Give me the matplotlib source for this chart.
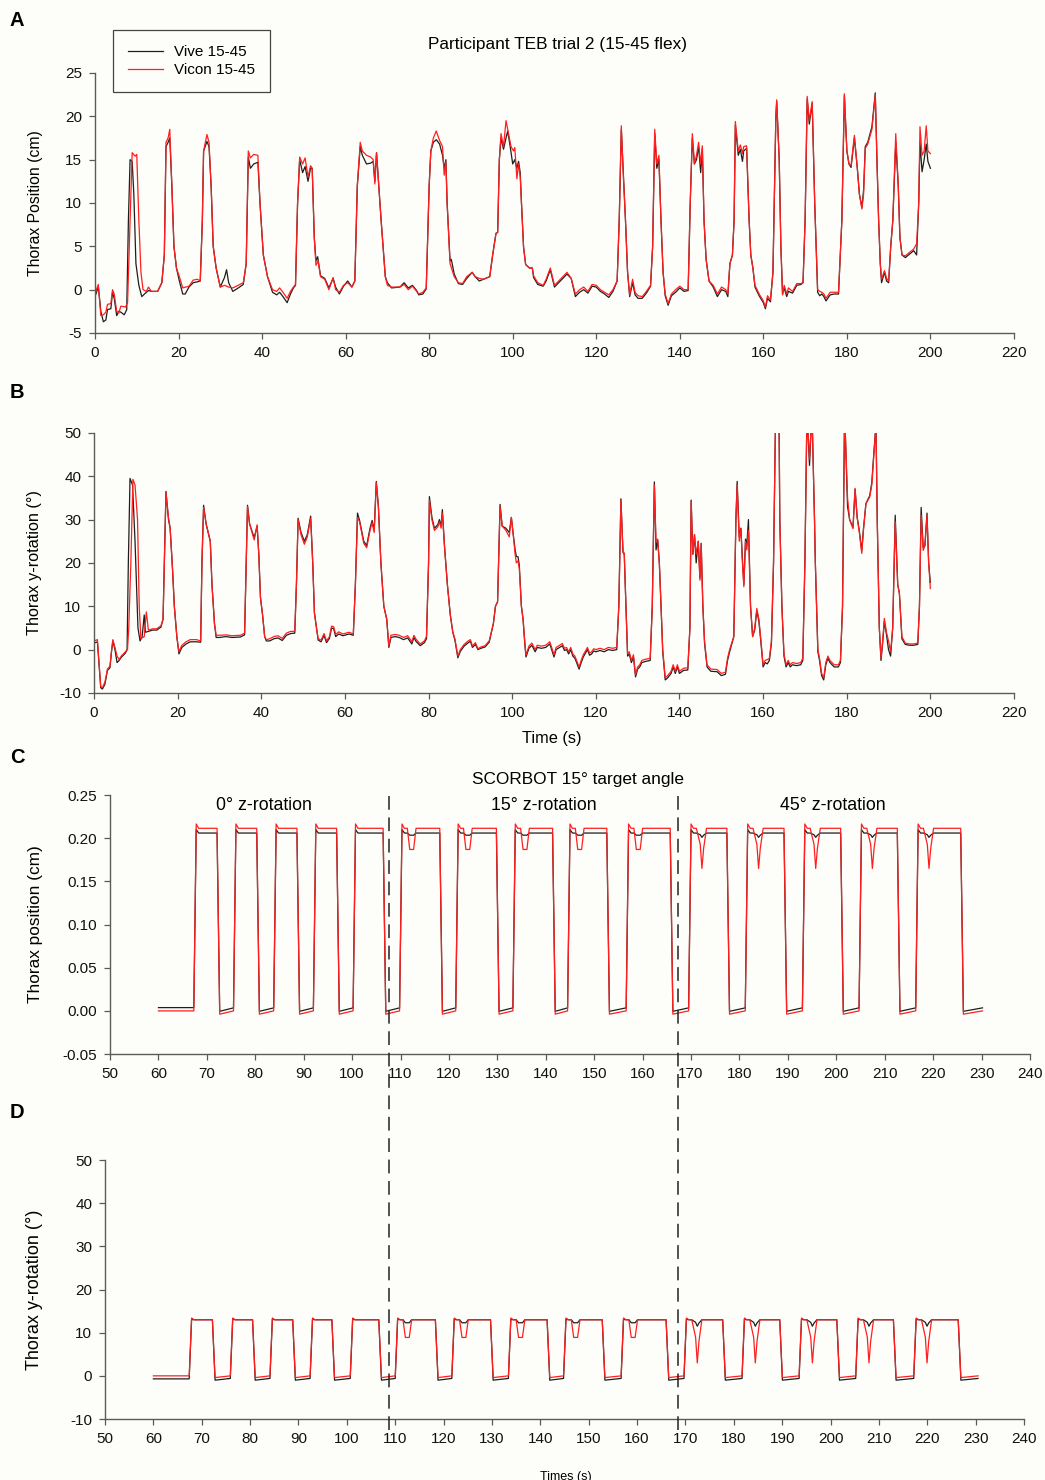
import numpy as np
import matplotlib
matplotlib.use("Agg")
import matplotlib.pyplot as plt
from matplotlib.lines import Line2D
from matplotlib.ticker import FormatStrFormatter, MultipleLocator

plt.rcParams["font.family"] = ["Liberation Sans", "DejaVu Sans"]
plt.rcParams["axes.unicode_minus"] = False

# ---- panel A: thorax position (cm), (time, value) ----
vicon_a = [(0, -0.4), (0.8, 0.6), (1.4, -3.0), (2.0, -2.9), (2.6, -2.6), (3.0, -1.7), (3.8, -1.6), (4.2, 0.0),
           (4.6, -0.5), (5.2, -2.5), (5.7, -2.7), (6.2, -1.9), (7.3, -2.0), (7.8, -1.5), (8.4, 8), (8.9, 15.8),
           (9.6, 15.4), (10.0, 15.6), (10.5, 8), (11.0, 2), (11.5, 0.0), (12.3, -0.2), (12.8, 0.3), (13.5, -0.2),
           (15.0, -0.2), (16.0, 0.8), (16.6, 4), (17.0, 17.0), (17.5, 17.5), (17.9, 18.5), (18.4, 12), (18.9, 5),
           (19.5, 2.5), (20.2, 1.5), (21.0, 0.2), (22.5, 0.4), (23.5, 1.1), (24.5, 1.2), (25.2, 1.0), (25.7, 8),
           (26.0, 16.0), (26.8, 17.9), (27.3, 17.0), (27.8, 12), (28.3, 5), (29.0, 2.5), (30.0, 0.3), (31.0, 0.5),
           (32.0, 0.3), (33.0, 0.2), (35.5, 0.8), (36.2, 3), (36.7, 16.0), (37.2, 15.2), (38.0, 15.6), (39.0, 15.5),
           (39.5, 10), (40.3, 4), (41.3, 1.5), (42.5, 0.0), (43.5, -0.2), (44.2, 0.2), (45.0, -0.3), (46.0, -1.0),
           (46.8, -0.2), (47.5, 0.3), (48.0, 0.6), (48.5, 10), (49.0, 15.3), (49.7, 14.5), (50.3, 15.2), (51.0, 13.0),
           (51.6, 14.3), (52.0, 14.0), (52.5, 6), (52.9, 2.8), (53.4, 3.3), (54.0, 1.5), (55.0, 1.2), (56.0, 0.0),
           (57.0, 1.4), (57.6, 0.0), (58.5, -0.3), (59.5, 0.5), (60.5, 0.8), (61.5, 0.3), (62.2, 1.0), (62.8, 12),
           (63.5, 17.0), (64.0, 16.0), (65.0, 15.5), (66.0, 15.3), (66.6, 15.0), (67.0, 12.2), (67.4, 15.8),
           (67.8, 13), (68.5, 8), (69.5, 1.5), (70.0, 0.5), (71.0, 0.3), (73.0, 0.3), (74.0, 0.6), (75.0, 0.0),
           (76.0, 0.4), (77.0, -0.2), (77.5, -0.5), (78.5, -0.3), (79.3, 0.2), (80.0, 12), (80.4, 16.0), (81.0, 17.5),
           (81.7, 18.3), (82.5, 17.2), (83.2, 16.5), (83.6, 13.2), (84.0, 14.8), (84.3, 10), (85.0, 3.0), (86.0, 1.5),
           (87.0, 0.8), (88.0, 0.7), (89.0, 1.5), (90.3, 2.0), (91.0, 1.5), (92.0, 1.3), (93.0, 1.2), (94.5, 1.5),
           (95.2, 4), (96.0, 6.5), (96.4, 6.6), (96.8, 15), (97.2, 18.0), (97.8, 16.5), (98.4, 19.5), (99.0, 18.0),
           (99.6, 16.5), (100.2, 16.0), (100.5, 16.4), (101.0, 12.8), (101.4, 14.5), (101.8, 13.0), (102.1, 10),
           (102.6, 4.9), (103.1, 2.9), (104.0, 2.5), (104.7, 2.5), (105.0, 1.6), (106.0, 0.8), (107.3, 0.5),
           (108.0, 1.2), (109.0, 2.5), (110.0, 0.5), (111.0, 1.0), (112.0, 1.5), (113.0, 2.0), (114.0, 1.3),
           (115.0, -0.5), (116.0, 0.0), (117.0, 0.3), (118.0, -0.2), (119.0, 0.6), (120.0, 0.5), (121.0, 0.0),
           (122.0, -0.3), (123.0, -0.6), (124.0, 0.0), (125.0, 1.0), (125.5, 8), (126.0, 18.9), (126.5, 13),
           (127.0, 8), (127.5, 2), (128.0, -0.6), (128.7, 1.2), (129.3, -0.3), (130.0, -0.7), (131.0, -0.8),
           (132.0, -0.2), (133.0, 0.5), (133.5, 5), (134.0, 18.5), (134.5, 14.5), (135.0, 15.5), (135.5, 8),
           (136.0, 2), (136.5, -0.5), (137.2, -1.6), (138.0, -0.5), (139.0, 0.0), (140.0, 0.4), (141.0, 0.0),
           (142.0, 0.0), (142.5, 10), (143.0, 18.0), (143.5, 14.5), (144.0, 15.5), (144.5, 17.0), (145.0, 14.5),
           (145.4, 16.6), (145.8, 8), (146.3, 3.5), (147.0, 1.0), (148.0, 0.5), (149.0, -0.5), (150.0, 0.3),
           (151.0, 0.0), (151.5, -0.5), (152.0, 3.0), (152.6, 4.0), (153.0, 8), (153.3, 19.4), (154.0, 16.0),
           (154.5, 16.7), (155.0, 15.7), (155.3, 16.5), (156.0, 16.6), (156.6, 8), (157.0, 4), (157.5, 2.5),
           (158.0, 0.5), (159.0, -0.5), (160.0, -1.3), (160.5, -2.0), (161.0, -0.7), (161.7, -1.2), (162.3, 2),
           (163.0, 20), (163.2, 21.9), (163.8, 15), (164.2, 5), (164.6, -0.6), (165.0, 0.5), (165.6, -0.5),
           (166.0, 0.2), (167.0, -0.2), (168.0, 0.7), (169.0, 0.7), (169.5, 0.8), (170.0, 8), (170.5, 22.3),
           (171.0, 19.5), (171.7, 21.7), (172.3, 10), (173.0, 0.0), (173.5, -0.2), (174.0, -0.3), (174.5, -0.5),
           (175.0, -1.0), (176.0, -0.3), (177.0, -0.3), (178.0, -0.3), (178.8, 8), (179.4, 22.6), (180.0, 16),
           (180.5, 14.5), (181.0, 14.3), (181.8, 17.8), (182.5, 14.0), (183.0, 11.0), (183.6, 9.3), (184.0, 11.0),
           (184.4, 16.3), (185.0, 16.8), (186.0, 18.5), (186.8, 22.5), (187.2, 15), (187.6, 8), (188.0, 3),
           (188.3, 1.2), (189.0, 2.2), (189.5, 1.3), (190.0, 1.0), (190.5, 5), (191.0, 8), (191.7, 18.0),
           (192.3, 12), (192.7, 6), (193.2, 4.0), (194.0, 3.9), (195.0, 4.3), (196.0, 4.7), (196.7, 5.3),
           (197.2, 10), (197.5, 18.8), (198.0, 15.5), (198.5, 16.0), (199.0, 18.9), (199.4, 16.0), (200.0, 15.7)]

vive_a = [(0, -0.8), (0.8, 0.3), (1.4, -2.5), (2.0, -3.7), (2.6, -3.5), (3.0, -2.3), (3.8, -2.2), (4.2, -0.3),
          (4.6, -1.0), (5.2, -3.0), (5.7, -2.5), (6.2, -2.6), (7.0, -2.9), (7.6, -2.3), (8.0, 8), (8.4, 15.0),
          (8.9, 14.8), (9.3, 11), (9.8, 3.0), (10.5, 0.5), (11.2, -0.8), (12.3, -0.3), (12.8, -0.1), (13.5, -0.2),
          (15.0, -0.2), (16.0, 0.8), (16.6, 4), (17.0, 16.5), (17.5, 17.0), (17.9, 17.5), (18.4, 12), (18.9, 5),
          (19.5, 2.5), (20.2, 1.0), (21.0, -0.5), (21.6, -0.5), (22.5, 0.3), (23.5, 0.8), (24.5, 0.9), (25.2, 1.0),
          (25.7, 8), (26.0, 16.0), (26.8, 17.1), (27.3, 16.5), (27.8, 12), (28.3, 5), (29.0, 2.5), (30.0, 0.3),
          (31.0, 1.4), (31.5, 2.3), (32.0, 0.8), (33.0, -0.2), (34.0, 0.1), (35.5, 0.6), (36.2, 3), (36.7, 15.3),
          (37.2, 14.0), (38.0, 14.5), (39.0, 14.7), (39.5, 10), (40.3, 4), (41.3, 1.5), (42.5, -0.3), (43.5, -0.6),
          (44.2, -0.3), (45.0, -0.8), (46.0, -1.5), (46.8, -0.5), (47.5, 0.2), (48.0, 0.5), (48.5, 10), (49.0, 15.0),
          (49.7, 13.5), (50.3, 14.2), (51.0, 12.5), (51.6, 14.0), (52.0, 14.0), (52.5, 6), (52.9, 3.3), (53.3, 3.8),
          (54.0, 1.6), (55.0, 1.3), (56.0, 0.2), (57.0, 1.3), (57.6, 0.3), (58.5, -0.5), (59.5, 0.4), (60.5, 1.0),
          (61.5, 0.3), (62.2, 1.0), (62.8, 12), (63.5, 16.5), (64.0, 15.5), (65.0, 14.5), (66.0, 14.6), (66.6, 14.8),
          (67.0, 12.5), (67.4, 15.8), (67.8, 13), (68.5, 8), (69.5, 1.5), (70.0, 0.8), (71.0, 0.2), (73.0, 0.3),
          (74.0, 0.8), (75.0, 0.2), (76.0, 0.5), (77.0, -0.1), (77.5, -0.6), (78.5, -0.5), (79.3, 0.1), (80.0, 12),
          (80.4, 16.0), (81.0, 17.0), (81.7, 17.3), (82.5, 16.8), (83.2, 15.5), (83.6, 14.0), (84.0, 15.0),
          (84.3, 10), (85.0, 3.3), (85.3, 3.5), (86.0, 1.8), (87.0, 0.7), (88.0, 0.6), (89.0, 1.3), (90.3, 2.0),
          (91.0, 1.5), (92.0, 1.0), (93.0, 1.2), (94.5, 1.5), (95.2, 4), (96.0, 6.5), (96.4, 6.6), (96.8, 15),
          (97.2, 17.5), (97.8, 16.2), (98.4, 17.5), (98.8, 18.3), (99.4, 16.5), (100.0, 14.5), (100.5, 15.0),
          (101.0, 14.0), (101.4, 14.8), (101.8, 13.5), (102.1, 10), (102.6, 4.9), (103.1, 2.9), (104.0, 2.5),
          (104.7, 2.5), (105.0, 1.4), (106.0, 0.6), (107.3, 0.4), (108.0, 1.0), (109.0, 2.3), (110.0, 0.3),
          (111.0, 0.8), (112.0, 1.3), (113.0, 1.8), (114.0, 1.3), (115.0, -0.8), (116.0, -0.3), (117.0, 0.0),
          (118.0, -0.4), (119.0, 0.4), (120.0, 0.3), (121.0, -0.2), (122.0, -0.5), (123.0, -0.9), (124.0, -0.2),
          (125.0, 1.0), (125.5, 8), (126.0, 18.5), (126.5, 13.3), (127.0, 8), (127.5, 2), (128.0, -0.8),
          (128.7, 0.8), (129.3, -0.6), (130.0, -1.0), (131.0, -1.0), (132.0, -0.4), (133.0, 0.4), (133.5, 5),
          (134.0, 18.0), (134.5, 14.0), (135.0, 15.0), (135.5, 8), (136.0, 2), (136.5, -0.7), (137.2, -1.8),
          (138.0, -0.7), (139.0, -0.3), (140.0, 0.2), (141.0, -0.2), (142.0, -0.1), (142.5, 10), (143.0, 17.5),
          (143.5, 14.5), (144.0, 15.0), (144.5, 16.5), (145.0, 13.5), (145.4, 16.3), (145.8, 8), (146.3, 3.5),
          (147.0, 1.0), (148.0, 0.3), (149.0, -0.8), (150.0, 0.0), (151.0, -0.2), (151.5, -0.8), (152.0, 3.0),
          (152.6, 4.0), (153.0, 8), (153.3, 19.0), (154.0, 15.5), (154.5, 16.2), (155.0, 14.8), (155.3, 16.0),
          (156.0, 16.3), (156.6, 8), (157.0, 4), (157.5, 2.5), (158.0, 0.3), (159.0, -0.7), (160.0, -1.5),
          (160.5, -2.2), (161.0, -1.0), (161.7, -1.4), (162.3, 2), (163.0, 20), (163.2, 21.7), (163.8, 15),
          (164.2, 5), (164.6, -0.5), (165.0, 0.2), (165.6, -0.8), (166.0, -0.2), (167.0, -0.4), (168.0, 0.5),
          (169.0, 0.6), (169.5, 0.8), (170.0, 8), (170.5, 22.0), (171.0, 19.1), (171.7, 21.5), (172.3, 10),
          (173.0, -0.3), (173.5, -0.7), (174.0, -0.5), (174.5, -0.8), (175.0, -1.3), (176.0, -0.6), (177.0, -0.5),
          (178.0, -0.5), (178.8, 8), (179.4, 22.4), (180.0, 16), (180.5, 14.5), (181.0, 14.1), (181.8, 17.5),
          (182.5, 14.0), (183.0, 11.0), (183.6, 9.5), (184.0, 11.5), (184.4, 16.5), (185.0, 17.0), (186.0, 18.8),
          (186.8, 22.7), (187.2, 15), (187.6, 8), (188.0, 3), (188.3, 0.8), (189.0, 2.0), (189.5, 1.0),
          (190.0, 0.8), (190.5, 5), (191.0, 8), (191.7, 17.0), (192.3, 12), (192.7, 6), (193.2, 4.0), (194.0, 3.7),
          (195.0, 4.1), (196.0, 4.5), (196.7, 4.0), (197.2, 10), (197.5, 17.0), (198.0, 13.6), (198.5, 15.0),
          (199.0, 16.8), (199.4, 14.8), (200.0, 14.0)]

# ---- panel B: thorax y-rotation (deg) ----
vicon_b = [(0, 2.0), (0.8, 2.3), (1.2, -3.0), (1.6, -8.5), (2.0, -8.8), (2.6, -7.5), (3.2, -4.5), (3.8, -3.8),
           (4.2, 0.0), (4.5, 2.3), (5.0, 0.5), (5.5, -1.5), (6.0, -2.3), (6.5, -1.5), (7.5, -0.5), (8.0, 0.0),
           (8.3, 5), (8.8, 20), (9.3, 39.3), (9.8, 38), (10.4, 30), (10.8, 10), (11.2, 2.5), (12.0, 3.0),
           (12.5, 8.7), (13.0, 4.5), (14.0, 4.8), (15.0, 4.8), (16.0, 5.5), (16.5, 7), (16.8, 20), (17.2, 36.2),
           (17.8, 30.5), (18.2, 28), (18.8, 18), (19.2, 10), (19.8, 3), (20.3, -0.5), (21.0, 1.0), (22.0, 1.8),
           (23.0, 2.3), (24.5, 2.3), (25.5, 2.0), (25.8, 20), (26.2, 32.8), (26.8, 29), (27.3, 27), (27.8, 25),
           (28.2, 15), (28.8, 6), (29.2, 3.3), (30.0, 3.3), (31.5, 3.4), (33.0, 3.2), (35.0, 3.3), (36.0, 3.8),
           (36.4, 20), (36.7, 33.0), (37.2, 29), (38.3, 25.3), (39.0, 28.8), (39.4, 22), (39.8, 12), (40.3, 8),
           (40.8, 3), (41.2, 2.3), (42.0, 2.5), (43.0, 3.0), (44.0, 3.2), (45.0, 2.6), (46.0, 3.8), (47.0, 4.2),
           (48.0, 4.2), (48.4, 15), (48.8, 30.0), (49.5, 26.5), (50.3, 24.3), (51.0, 26.0), (51.8, 30.3),
           (52.3, 20), (52.7, 8.5), (53.2, 5), (53.6, 2.5), (54.3, 2.2), (55.0, 3.7), (55.6, 2.0), (56.3, 3.0),
           (56.8, 5.4), (57.3, 5.3), (57.8, 3.5), (58.5, 4.1), (59.5, 3.6), (61.0, 4.0), (62.0, 3.6), (62.5, 15),
           (63.0, 30.5), (63.5, 29.5), (64.5, 24.5), (65.2, 23.5), (66.0, 27.5), (66.5, 29.3), (67.0, 27.0),
           (67.5, 38.5), (68.0, 33), (68.6, 20), (69.3, 10), (70.0, 7), (70.5, 0.8), (71.0, 3.3), (72.0, 3.5),
           (73.0, 3.3), (74.0, 2.8), (75.0, 3.2), (76.0, 1.8), (76.5, 3.3), (77.0, 2.4), (78.0, 1.3), (79.0, 2.0),
           (79.5, 3.0), (80.0, 20), (80.2, 34.5), (80.8, 30), (81.4, 27.5), (82.2, 28.3), (82.6, 29.5), (83.0, 28.0),
           (83.3, 31.5), (83.8, 24), (84.5, 15), (85.2, 8), (85.8, 4), (86.3, 2.5), (87.0, -1.5), (87.6, 0.0),
           (88.5, 1.2), (89.5, 2.0), (90.0, 2.3), (90.5, 0.8), (91.2, 1.6), (91.8, 0.2), (92.5, 0.6), (93.5, 0.9),
           (94.5, 2.0), (95.5, 6), (96.0, 10), (96.5, 11), (97.1, 33.0), (97.6, 28.5), (98.5, 27.5), (99.3, 26.0),
           (99.8, 30.5), (100.2, 27), (100.7, 22), (101.0, 20.0), (101.4, 20.5), (101.7, 18.7), (102.2, 10),
           (102.6, 7), (103.0, 2), (103.3, -1.3), (104.0, 0.8), (104.7, 1.5), (105.5, 0.0), (106.0, 1.0),
           (107.0, 0.8), (108.0, 1.0), (109.0, 1.8), (110.0, -1.2), (110.5, 0.5), (111.0, 0.8), (112.0, 1.4),
           (112.5, 0.3), (113.0, 0.5), (113.5, -0.5), (114.0, 0.5), (114.5, -1.0), (115.0, -1.5), (116.0, -4.0),
           (116.5, -2.5), (117.0, -1.2), (118.0, 0.5), (118.5, -0.8), (119.0, -0.5), (119.5, 0.2), (120.0, 0.0),
           (121.0, 0.3), (122.0, 0.0), (123.0, 0.5), (124.0, 0.3), (125.0, 0.5), (125.5, 10), (126.0, 34.5),
           (126.5, 22.5), (126.8, 22.3), (127.2, 10), (127.6, -1.0), (128.0, -0.5), (128.5, -2.5), (129.0, -1.2),
           (129.5, -5.8), (130.0, -4.0), (130.5, -3.5), (131.0, -2.5), (132.0, -2.2), (133.0, -2.0), (133.5, 10),
           (134.0, 38.0), (134.4, 25), (134.8, 25.5), (135.2, 19.8), (135.6, 10), (136.0, 0), (136.6, -6.5),
           (137.2, -6.0), (138.0, -5.0), (138.5, -3.5), (139.0, -5.0), (139.5, -3.5), (140.0, -5.0), (141.0, -4.3),
           (142.0, -4.2), (142.5, 5), (142.8, 34.2), (143.2, 22), (143.6, 26.5), (144.0, 22), (144.5, 25),
           (144.9, 16), (145.2, 24.5), (145.6, 10), (146.0, 2), (146.6, -3.5), (147.5, -4.5), (149.0, -4.6),
           (150.0, -5.5), (151.0, -5.2), (151.5, -2.0), (152.0, 0.0), (153.0, 3.0), (153.5, 30), (153.8, 38.0),
           (154.3, 25), (154.7, 28), (155.0, 21), (155.4, 14.5), (155.8, 25), (156.1, 23), (156.5, 27.5),
           (157.0, 10), (157.5, 3), (158.0, 5), (158.5, 9.5), (159.0, 7), (159.5, 2), (160.0, -3.5), (160.5, -2.5),
           (161.0, -2.3), (161.5, -2.0), (162.0, 2), (162.5, 20), (163.0, 55), (163.8, 55), (164.0, 30),
           (164.5, 10), (165.0, -1), (165.5, -3.5), (166.0, -2.5), (166.5, -3.5), (167.0, -3.0), (168.0, -3.2),
           (169.0, -3.0), (169.5, -2.0), (170.0, 20), (170.5, 55), (171.1, 44), (171.7, 55), (172.3, 30),
           (172.5, 20), (173.1, 0), (173.5, -2), (174.0, -5.5), (174.5, -6.5), (175.0, -3.0), (175.5, -1.5),
           (176.0, -2.5), (177.0, -3.5), (178.0, -3.5), (178.5, -2.5), (179.0, 10), (179.5, 55), (180.2, 35),
           (180.7, 30), (181.5, 27.9), (182.0, 37.2), (182.5, 30.5), (183.0, 27.2), (183.6, 22.2), (184.0, 27.5),
           (184.6, 33.7), (185.5, 35.2), (186.0, 38), (186.5, 45), (187.0, 52), (187.3, 30), (187.8, 5),
           (188.2, -2), (188.6, 2), (189.0, 7.2), (189.5, 4), (190.0, 2), (190.5, -0.5), (191.0, 5), (191.6, 29.5),
           (192.2, 15), (192.6, 13), (193.2, 3), (194.0, 1.5), (195.0, 1.3), (196.0, 1.3), (197.0, 1.5),
           (197.4, 10), (197.8, 31), (198.3, 22.9), (198.7, 24), (199.2, 31), (199.6, 20), (200.0, 14.1)]

vive_b = [(0, 1.5), (0.8, 1.8), (1.2, -3.5), (1.6, -8.8), (2.0, -9.1), (2.6, -8.0), (3.2, -4.8), (3.8, -4.2),
          (4.2, -0.3), (4.5, 2.0), (5.0, 0.0), (5.5, -3.0), (6.0, -2.5), (6.5, -1.8), (7.5, -0.8), (7.9, 0.0),
          (8.2, 20), (8.6, 39.5), (9.2, 38), (9.8, 25), (10.5, 5), (11.0, 2.0), (11.5, 3.0), (12.0, 8.0),
          (12.3, 4.0), (13.0, 4.2), (14.0, 4.5), (15.0, 4.5), (16.0, 5.2), (16.5, 7), (16.8, 20), (17.2, 36.5),
          (17.8, 30.0), (18.2, 28), (18.8, 18), (19.2, 10), (19.8, 3), (20.3, -1.0), (21.0, 0.5), (22.0, 1.3),
          (23.0, 1.8), (24.5, 1.8), (25.5, 1.7), (25.8, 20), (26.2, 33.3), (26.8, 29), (27.3, 27), (27.8, 25),
          (28.2, 15), (28.8, 6), (29.2, 2.8), (30.0, 2.8), (31.5, 3.0), (33.0, 2.8), (35.0, 2.9), (36.0, 3.4),
          (36.4, 20), (36.7, 33.3), (37.2, 29), (38.3, 25.8), (39.0, 28.5), (39.4, 22), (39.8, 12), (40.3, 8),
          (40.8, 3), (41.2, 2.0), (42.0, 2.0), (43.0, 2.5), (44.0, 2.7), (45.0, 2.1), (46.0, 3.3), (47.0, 3.7),
          (48.0, 3.8), (48.4, 15), (48.8, 30.3), (49.5, 27), (50.3, 25.0), (51.0, 26.5), (51.8, 30.8), (52.3, 20),
          (52.7, 8.5), (53.2, 5), (53.6, 2.2), (54.3, 1.8), (55.0, 3.3), (55.6, 1.6), (56.3, 2.6), (56.8, 5.0),
          (57.3, 4.8), (57.8, 3.0), (58.5, 3.6), (59.5, 3.2), (61.0, 3.6), (62.0, 3.3), (62.5, 15), (63.0, 31.5),
          (63.5, 29.8), (64.5, 25.0), (65.2, 24.0), (66.0, 28.0), (66.5, 29.8), (67.0, 27.5), (67.5, 38.8),
          (68.0, 33), (68.6, 20), (69.3, 10), (70.0, 7), (70.5, 0.5), (71.0, 2.8), (72.0, 3.0), (73.0, 2.8),
          (74.0, 2.3), (75.0, 2.7), (76.0, 1.3), (76.5, 2.8), (77.0, 1.9), (78.0, 0.9), (79.0, 1.6), (79.5, 2.5),
          (80.0, 20), (80.2, 35.3), (80.8, 30.5), (81.4, 28.0), (82.2, 28.8), (82.6, 30.0), (83.0, 28.5),
          (83.3, 32.3), (83.8, 24), (84.5, 15), (85.2, 8), (85.8, 4), (86.3, 2.2), (87.0, -1.9), (87.6, -0.4),
          (88.5, 0.8), (89.5, 1.6), (90.0, 1.9), (90.5, 0.5), (91.2, 1.2), (91.8, 0.0), (92.5, 0.3), (93.5, 0.6),
          (94.5, 1.7), (95.5, 6), (96.0, 10), (96.5, 11), (97.1, 33.5), (97.6, 28.5), (98.5, 28.0), (99.3, 27.0),
          (99.8, 30.5), (100.2, 27), (100.7, 23), (101.0, 21.5), (101.4, 21.4), (101.7, 19.5), (102.2, 10),
          (102.6, 7), (103.0, 1.5), (103.3, -1.7), (104.0, 0.3), (104.7, 1.0), (105.5, -0.5), (106.0, 0.5),
          (107.0, 0.3), (108.0, 0.5), (109.0, 1.3), (110.0, -1.7), (110.5, 0.0), (111.0, 0.3), (112.0, 0.9),
          (112.5, -0.2), (113.0, 0.0), (113.5, -1.0), (114.0, 0.0), (114.5, -1.5), (115.0, -2.0), (116.0, -4.5),
          (116.5, -3.0), (117.0, -1.7), (118.0, 0.0), (118.5, -1.3), (119.0, -1.0), (119.5, -0.3), (120.0, -0.5),
          (121.0, -0.2), (122.0, -0.5), (123.0, 0.0), (124.0, -0.2), (125.0, 0.0), (125.5, 10), (126.0, 34.8),
          (126.5, 22.5), (126.8, 22.0), (127.2, 10), (127.6, -1.5), (128.0, -1.0), (128.5, -3.0), (129.0, -1.7),
          (129.5, -6.3), (130.0, -4.5), (130.5, -4.0), (131.0, -3.0), (132.0, -2.7), (133.0, -2.5), (133.5, 10),
          (134.0, 38.7), (134.4, 23), (134.8, 25.2), (135.2, 19.8), (135.6, 10), (136.0, -0.5), (136.6, -7.0),
          (137.2, -6.5), (138.0, -5.5), (138.5, -4.0), (139.0, -5.5), (139.5, -4.0), (140.0, -5.5), (141.0, -4.8),
          (142.0, -4.7), (142.5, 5), (142.8, 34.5), (143.2, 22), (143.6, 26.5), (144.0, 20), (144.5, 25),
          (144.9, 16.5), (145.2, 24.5), (145.6, 10), (146.0, 1.5), (146.6, -4.0), (147.5, -5.0), (149.0, -5.1),
          (150.0, -6.0), (151.0, -5.7), (151.5, -2.5), (152.0, -0.5), (153.0, 3.0), (153.5, 30), (153.8, 38.8),
          (154.3, 26), (154.7, 28), (155.0, 22), (155.4, 15), (155.8, 25.5), (156.1, 24), (156.5, 30),
          (157.0, 10), (157.5, 3), (158.0, 4.5), (158.5, 9.0), (159.0, 6.5), (159.5, 1.5), (160.0, -4.0),
          (160.5, -3.0), (161.0, -3.3), (161.5, -2.5), (162.0, 1.5), (162.5, 20), (163.0, 55), (163.8, 55),
          (164.0, 30), (164.5, 10), (165.0, -1.5), (165.5, -4.0), (166.0, -3.0), (166.5, -4.0), (167.0, -3.5),
          (168.0, -3.7), (169.0, -3.5), (169.5, -2.5), (170.0, 20), (170.5, 55), (171.1, 42.5), (171.7, 55),
          (172.3, 30), (172.5, 20), (173.1, -0.5), (173.5, -2.5), (174.0, -6.0), (174.5, -7.0), (175.0, -3.5),
          (175.5, -2.0), (176.0, -3.0), (177.0, -4.0), (178.0, -4.0), (178.5, -3.0), (179.0, 10), (179.5, 55),
          (180.2, 33), (180.7, 30), (181.5, 28.2), (182.0, 37.0), (182.5, 30.5), (183.0, 27.5), (183.6, 22.8),
          (184.0, 27.8), (184.6, 33.7), (185.5, 35.5), (186.0, 38.5), (186.5, 45.5), (187.0, 52), (187.3, 30),
          (187.8, 5), (188.2, -2.5), (188.6, 1.5), (189.0, 6.5), (189.5, 3.5), (190.0, 0.0), (190.5, -1.5),
          (191.0, 5), (191.6, 31.0), (192.2, 15), (192.6, 13), (193.2, 2.5), (194.0, 1.2), (195.0, 1.0),
          (196.0, 1.0), (197.0, 1.2), (197.4, 10), (197.8, 32.8), (198.3, 23.5), (198.7, 24), (199.2, 31.5),
          (199.6, 20), (200.0, 15.5)]

# ---- panels C and D: SCORBOT square-wave trials ----
# rise / fall times of each movement (s), section index 0 = 0 deg, 1 = 15 deg, 2 = 45 deg z-rotation
c_rise = [67.3, 75.5, 83.8, 92.0, 100.2, 109.8, 121.4, 133.2, 144.5, 156.6, 169.5, 181.2, 193.0, 204.7, 216.4]
c_fall = [72.1, 80.3, 88.6, 96.8, 106.4, 118.1, 129.8, 141.4, 152.6, 165.7, 177.4, 189.2, 200.9, 212.6, 225.7]
d_rise = [67.4, 75.9, 84.1, 92.4, 100.7, 110.0, 121.7, 133.4, 144.8, 156.7, 169.7, 181.7, 193.5, 205.2, 217.2]
d_fall = [72.2, 80.5, 88.8, 96.9, 106.6, 118.3, 129.7, 141.4, 152.8, 166.0, 177.7, 189.5, 201.3, 213.0, 226.4]
section = [0, 0, 0, 0, 0, 1, 1, 1, 1, 1, 2, 2, 2, 2, 2]
c_span = (60.0, 230.2)
d_span = (60.0, 230.5)
section_lines = [107.6, 167.3]  # dashed separators, in panel C time

# levels: start, low dip after fall, low before next rise, overshoot, plateau, dip per section
vicon_c = dict(start=0.0, low_min=-0.0038, low_end=0.0, peak=0.2165, plateau=0.2115, dip=[None, 0.187, 0.165])
vive_c = dict(start=0.0038, low_min=-0.0005, low_end=0.0035, peak=0.2100, plateau=0.2060, dip=[None, 0.2035, 0.2010])
vicon_d = dict(start=0.0, low_min=-0.4, low_end=0.0, peak=13.4, plateau=13.0, dip=[None, 8.9, 3.0])
vive_d = dict(start=-0.7, low_min=-1.0, low_end=-0.6, peak=13.1, plateau=13.0, dip=[None, 12.3, 11.5])

RED = "#ff1f1f"
BLACK = "#1e1e1e"
AXC = "#5a5a5a"


def unpack(pairs):
    arr = np.array(pairs, dtype=float)
    return arr[:, 0], arr[:, 1]


def square_trace(span, rises, falls, lv):
    ts, ys = [span[0], rises[0]], [lv["start"], lv["start"]]
    for i, (r, f) in enumerate(zip(rises, falls)):
        hi = lv["plateau"]
        ts += [r + 0.5, r + 1.0]
        ys += [lv["peak"], hi]
        dip = lv["dip"][section[i]]
        if dip is not None and section[i] == 1:
            ts += [r + 1.6, r + 2.1, r + 2.9, r + 3.4]
            ys += [hi, dip, dip, hi]
        elif dip is not None:
            ts += [r + 1.6, r + 2.4, r + 2.75, r + 3.1, r + 3.7]
            ys += [hi, (hi + dip) / 2 + (hi - dip) * 0.1, dip, (hi + dip) / 2, hi]
        nxt = rises[i + 1] if i + 1 < len(rises) else span[1]
        ts += [f, f + 0.55, nxt]
        ys += [hi, lv["low_min"], lv["low_end"]]
    return ts, ys


def style(ax, xlim, ylim, xstep, ystep):
    ax.set_xlim(*xlim)
    ax.set_ylim(*ylim)
    ax.xaxis.set_major_locator(MultipleLocator(xstep))
    ax.yaxis.set_major_locator(MultipleLocator(ystep))
    for s in ["top", "right"]:
        ax.spines[s].set_visible(False)
    for s in ["left", "bottom"]:
        ax.spines[s].set_color(AXC)
        ax.spines[s].set_linewidth(1.0)
    ax.tick_params(direction="out", length=4.2, width=0.9, color=AXC,
                   labelsize=11, pad=5, labelcolor="#111111")
    ax.set_facecolor("none")


fig = plt.figure(figsize=(10.45, 14.8), dpi=100)
fig.patch.set_facecolor("#fdfdfa")

ax_a = fig.add_axes([0.0909, 0.7750, 0.8794, 0.1757])
ax_b = fig.add_axes([0.0900, 0.5318, 0.8803, 0.1757])
ax_c = fig.add_axes([0.1053, 0.2878, 0.8803, 0.1750])
ax_d = fig.add_axes([0.1005, 0.0412, 0.8794, 0.1750])

# A
t, v = unpack(vive_a)
ax_a.plot(t, v, color=BLACK, lw=0.9)
t, v = unpack(vicon_a)
ax_a.plot(t, v, color=RED, lw=0.9)
style(ax_a, (0, 220), (-5, 25), 20, 5)
ax_a.set_ylabel("Thorax Position (cm)", fontsize=11.3)
ax_a.yaxis.set_label_coords(-0.0566, 0.5)

# B
t, v = unpack(vive_b)
ax_b.plot(t, v, color=BLACK, lw=0.9)
t, v = unpack(vicon_b)
ax_b.plot(t, v, color=RED, lw=0.9)
style(ax_b, (0, 220), (-10, 50), 20, 10)
ax_b.set_ylabel("Thorax y-rotation (°)", fontsize=11.7)
ax_b.yaxis.set_label_coords(-0.0565, 0.5)
ax_b.set_xlabel("Time (s)", fontsize=11.8)
ax_b.xaxis.set_label_coords(0.498, -0.145)

# C
ax_c.plot(*square_trace(c_span, c_rise, c_fall, vive_c), color=BLACK, lw=0.9)
ax_c.plot(*square_trace(c_span, c_rise, c_fall, vicon_c), color=RED, lw=0.9)
style(ax_c, (50, 240), (-0.05, 0.25), 10, 0.05)
ax_c.yaxis.set_major_formatter(FormatStrFormatter("%.2f"))
ax_c.set_ylabel("Thorax position (cm)", fontsize=12.4)
ax_c.yaxis.set_label_coords(-0.0728, 0.5)

# D
ax_d.plot(*square_trace(d_span, d_rise, d_fall, vive_d), color=BLACK, lw=0.9)
ax_d.plot(*square_trace(d_span, d_rise, d_fall, vicon_d), color=RED, lw=0.9)
style(ax_d, (50, 240), (-10, 50), 10, 10)
ax_d.set_ylabel("Thorax y-rotation (°)", fontsize=13)
ax_d.yaxis.set_label_coords(-0.0675, 0.5)
ax_d.set_xlabel("Times (s)", fontsize=9)
ax_d.xaxis.set_label_coords(0.5016, -0.2)

# dashed section separators running through C and D
inv = fig.transFigure.inverted()
for xs in section_lines:
    fx = inv.transform(ax_c.transData.transform((xs, 0)))[0]
    fig.add_artist(Line2D([fx, fx], [0.462, 0.034], transform=fig.transFigure,
                          color="#222222", lw=1.1, dashes=(9, 5)))

# panel letters and titles
for letter, ypix in [("A", 20), ("B", 392), ("C", 757), ("D", 1113)]:
    fig.text(10 / 1045, 1 - ypix / 1480, letter, fontsize=14.5, fontweight="bold", va="center", ha="left")
fig.text(557 / 1045, 1 - 45 / 1480, "Participant TEB trial 2 (15-45 flex)", fontsize=12.4, ha="center", va="center")
fig.text(578 / 1045, 1 - 780 / 1480, "SCORBOT 15° target angle", fontsize=12.4, ha="center", va="center")
for label, xpix in [("0° z-rotation", 264), ("15° z-rotation", 544), ("45° z-rotation", 833)]:
    fig.text(xpix / 1045, 1 - 805 / 1480, label, fontsize=12.8, ha="center", va="center")

handles = [Line2D([], [], color=BLACK, lw=0.9), Line2D([], [], color=RED, lw=0.9)]
leg = fig.legend(handles, ["Vive 15-45", "Vicon 15-45"], loc="upper left",
                 bbox_to_anchor=(113 / 1045, 1 - 30 / 1480), borderaxespad=0, fontsize=11,
                 fancybox=False, edgecolor="#444444", framealpha=1, facecolor="#fdfdfa",
                 handlelength=2.3, handletextpad=0.7, labelspacing=0.25, borderpad=1.0)
leg.get_frame().set_linewidth(0.9)

fig.savefig("out.png", dpi=100, facecolor=fig.get_facecolor())
